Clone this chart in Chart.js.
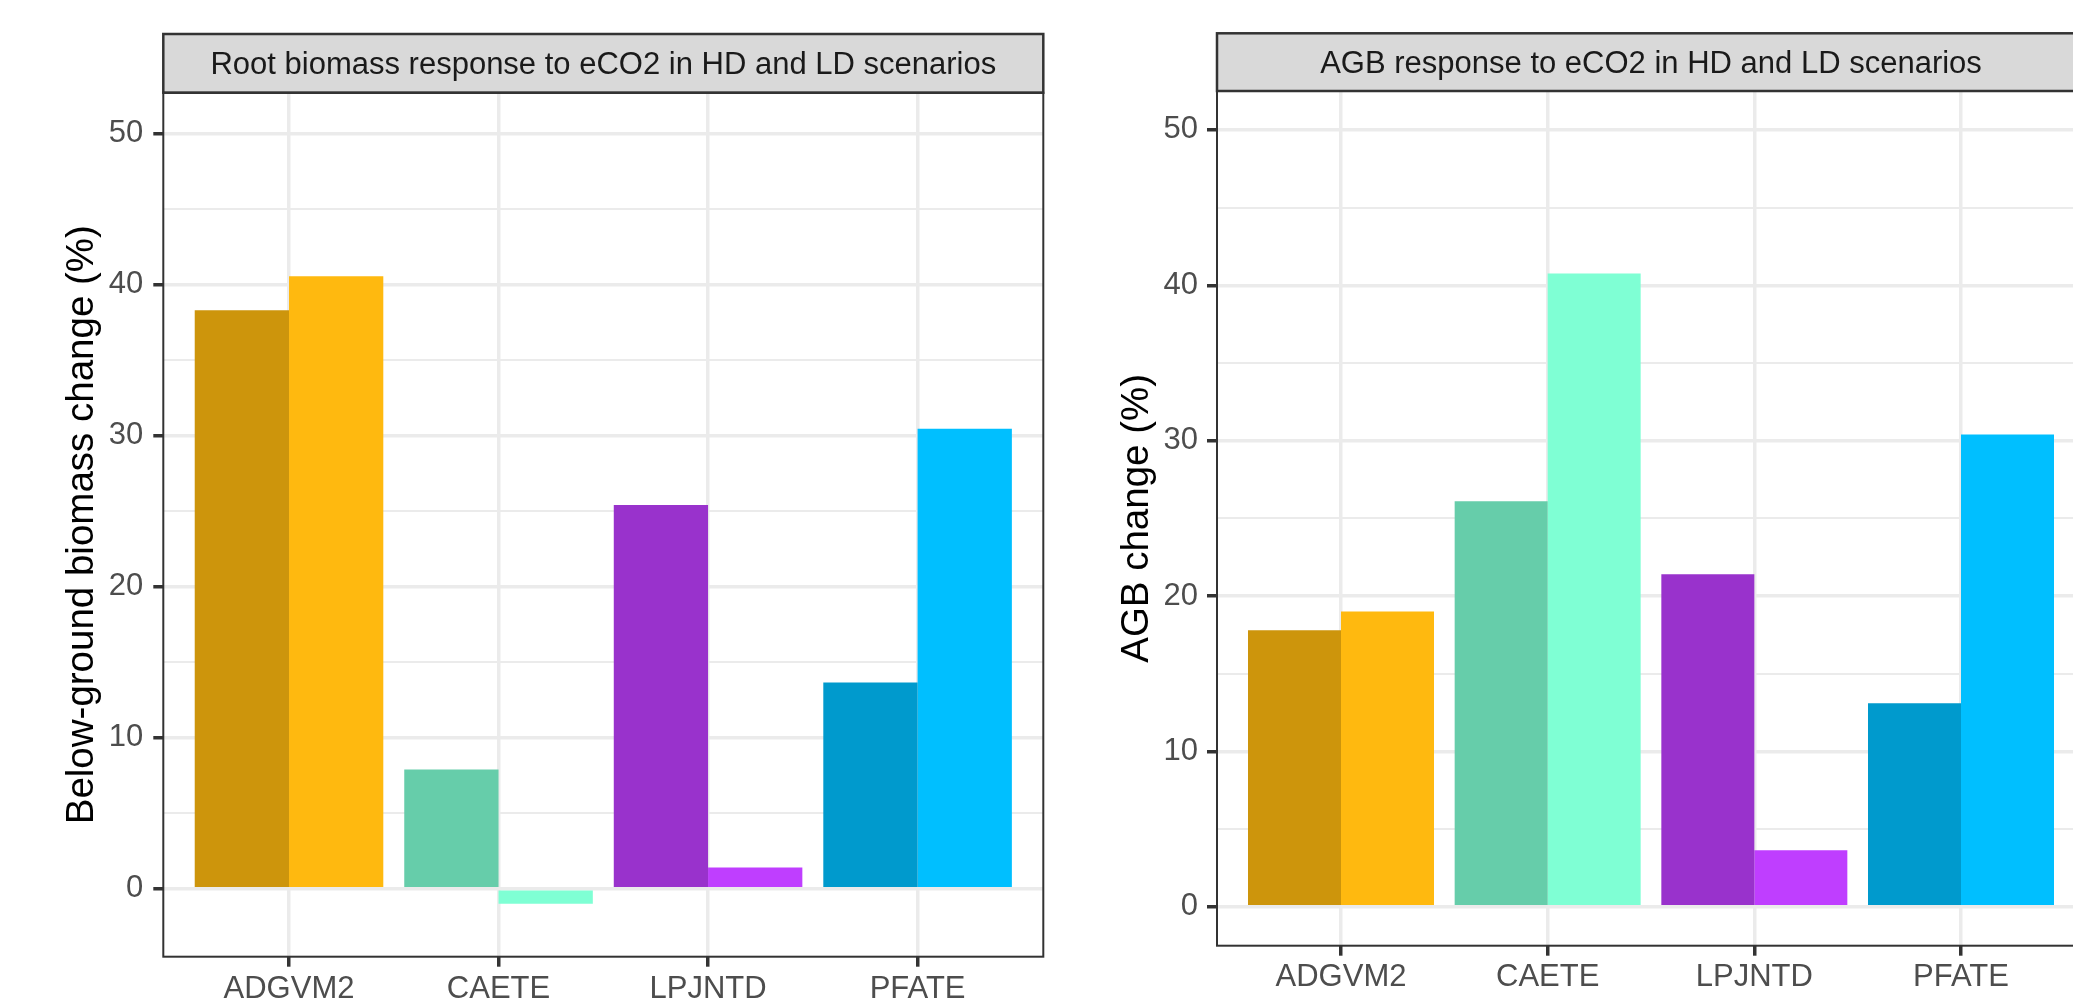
<!DOCTYPE html>
<html>
<head>
<meta charset="utf-8">
<title>Biomass response to eCO2</title>
<script src="https://cdn.jsdelivr.net/npm/chart.js@4.4.1/dist/chart.umd.min.js"></script>
<style>
  html, body { margin: 0; padding: 0; background: #fff; overflow: hidden; }
  body { width: 2073px; height: 1007px; position: relative; }
  canvas { position: absolute; top: 0; }
  #rootChart { left: 0; }
  #agbChart { left: 1100px; }
</style>
</head>
<body>
<canvas id="rootChart" width="1100" height="1007"></canvas>
<canvas id="agbChart" width="1000" height="1007"></canvas>

<script>
// ---------- Data ----------
const models = ["ADGVM2", "CAETE", "LPJNTD", "PFATE"];

// Root (below-ground) biomass change, %
const rootHD = [38.3, 7.9, 25.4, 13.65];
const rootLD = [40.55, -1.0, 1.4, 30.45];

// Above-ground biomass change, %
const agbHD = [17.8, 26.1, 21.4, 13.1];
const agbLD = [19.0, 40.75, 3.65, 30.4];

// ggplot-ish colours (HD darker, LD lighter)
const hdColors = ["#CD950C", "#66CDAA", "#9932CC", "#009ACD"];
const ldColors = ["#FFB90F", "#7FFFD4", "#BF3EFF", "#00BFFF"];

const yMajor = [0, 10, 20, 30, 40, 50];
const yMinor = [5, 15, 25, 35, 45];

const FONT = "'Liberation Sans', Arial, Helvetica, sans-serif";

// ---------- Strip + panel border (facet look) ----------
const facetPlugin = {
  id: "facet",
  afterDraw(chart, args, opts) {
    const { ctx, chartArea: a } = chart;
    ctx.save();
    // strip
    ctx.fillStyle = "#D9D9D9";
    ctx.fillRect(a.left, opts.stripTop, a.right - a.left, a.top - opts.stripTop);
    ctx.strokeStyle = "#333333";
    ctx.lineWidth = 2.5;
    ctx.strokeRect(a.left, opts.stripTop, a.right - a.left, a.top - opts.stripTop);
    ctx.fillStyle = "#1A1A1A";
    ctx.font = "31px " + FONT;
    ctx.textAlign = "center";
    ctx.textBaseline = "middle";
    ctx.fillText(opts.text, (a.left + a.right) / 2, (opts.stripTop + a.top) / 2 + 2);
    // panel border
    ctx.lineWidth = 2;
    ctx.strokeRect(a.left, a.top, a.right - a.left, a.bottom - a.top);
    ctx.restore();
  },
};

function renderPanel(canvasId, cfg) {
  const canvas = document.getElementById(canvasId);
  const positions = models.map((m, i) => i + 1);

  new Chart(canvas, {
    type: "bar",
    data: {
      datasets: [
        {
          label: "HD",
          data: cfg.hd.map((v, i) => ({ x: positions[i], y: v })),
          backgroundColor: hdColors,
          borderWidth: 0,
        },
        {
          label: "LD",
          data: cfg.ld.map((v, i) => ({ x: positions[i], y: v })),
          backgroundColor: ldColors,
          borderWidth: 0,
        },
      ],
    },
    plugins: [facetPlugin],
    options: {
      responsive: false,
      animation: false,
      events: [],
      barPercentage: 1.0,
      categoryPercentage: 0.9,
      layout: { padding: cfg.padding },
      plugins: {
        legend: { display: false },
        tooltip: { enabled: false },
        facet: { text: cfg.strip, stripTop: cfg.stripTop },
      },
      scales: {
        x: {
          type: "linear",
          offset: false,
          min: 0.4,
          max: 4.6,
          afterBuildTicks: (s) => { s.ticks = positions.map((v) => ({ value: v })); },
          afterFit: (s) => { s.height = cfg.xHeight; },
          grid: {
            offset: false,
            color: "#EBEBEB",
            lineWidth: 3.5,
            tickColor: "#333333",
            tickWidth: 3.5,
            tickLength: 10,
          },
          border: { display: false },
          ticks: {
            autoSkip: false,
            maxRotation: 0,
            padding: cfg.xPad,
            color: "#4D4D4D",
            font: { family: FONT, size: 31 },
            callback: (v) => models[v - 1] || "",
          },
        },
        y: {
          type: "linear",
          min: cfg.yMin,
          max: cfg.yMax,
          afterBuildTicks: (s) => {
            s.ticks = yMajor.concat(yMinor).sort((a, b) => a - b).map((v) => ({ value: v }));
          },
          afterFit: (s) => { s.width = cfg.yWidth; },
          grid: {
            color: "#EBEBEB",
            lineWidth: (c) => (yMajor.includes(c.tick.value) ? 3.5 : 1.9),
            tickColor: (c) => (yMajor.includes(c.tick.value) ? "#333333" : "rgba(0,0,0,0)"),
            tickWidth: 3.5,
            tickLength: 10,
          },
          border: { display: false },
          ticks: {
            autoSkip: false,
            padding: cfg.yPad,
            color: "#4D4D4D",
            font: { family: FONT, size: 31 },
            callback: (v) => (yMajor.includes(v) ? String(v) : ""),
          },
          title: {
            display: true,
            text: cfg.yTitle,
            color: "#000000",
            font: { family: FONT, size: 38.5 },
            padding: { top: cfg.titlePad, bottom: 0 },
          },
        },
      },
    },
  });
}

renderPanel("rootChart", {
  hd: rootHD,
  ld: rootLD,
  strip: "Root biomass response to eCO2 in HD and LD scenarios",
  yTitle: "Below-ground biomass change (%)",
  yMin: -4.5,
  yMax: 52.7,
  stripTop: 34,
  padding: { top: 92.7, right: 56.7, left: 0, bottom: 0 },
  yWidth: 163.3,
  xHeight: 50.3,
  xPad: 4,
  yPad: 10,
  titlePad: 59,
});

renderPanel("agbChart", {
  hd: agbHD,
  ld: agbLD,
  strip: "AGB response to eCO2 in HD and LD scenarios",
  yTitle: "AGB change (%)",
  yMin: -2.5,
  yMax: 52.5,
  stripTop: 33.3,
  padding: { top: 91, right: 15, left: 0, bottom: 0 },
  yWidth: 117,
  xHeight: 61.3,
  xPad: 3,
  yPad: 9,
  titlePad: 14,
});
</script>
</body>
</html>
